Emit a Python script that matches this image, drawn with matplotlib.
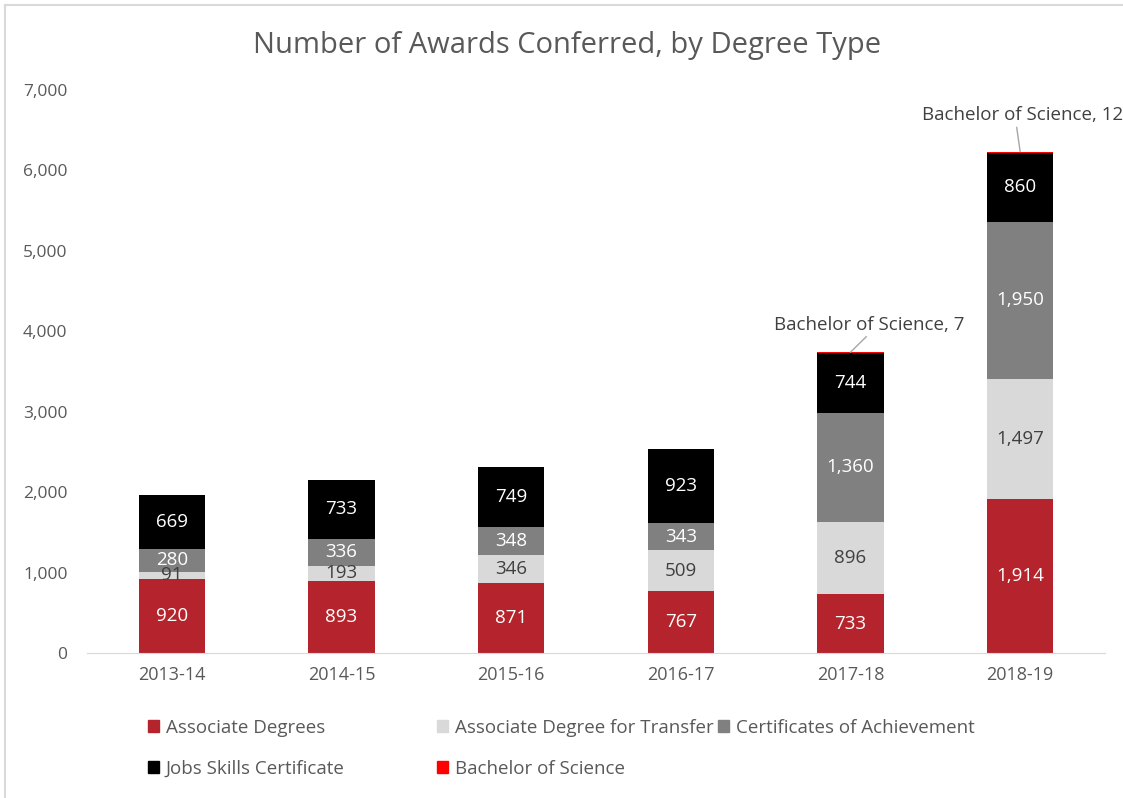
import matplotlib
matplotlib.use("Agg")
import matplotlib.pyplot as plt
import numpy as np
from matplotlib.patches import Patch
from matplotlib.lines import Line2D

plt.rcParams['font.family'] = ['Open Sans', 'DejaVu Sans']

years = ["2013-14", "2014-15", "2015-16", "2016-17", "2017-18", "2018-19"]
associate = [920, 893, 871, 767, 733, 1914]
adt = [91, 193, 346, 509, 896, 1497]
certificates = [280, 336, 348, 343, 1360, 1950]
jobs = [669, 733, 749, 923, 744, 860]
bachelor = [0, 0, 0, 0, 7, 12]

series_names = ["Associate Degrees", "Associate Degree for Transfer",
                "Certificates of Achievement", "Jobs Skills Certificate",
                "Bachelor of Science"]
colors = ["#B5242C", "#D9D9D9", "#808080", "#000000", "#FF0000"]
label_colors = ["white", "#404040", "white", "white", None]

W, H = 1123, 798
fig = plt.figure(figsize=(W / 100, H / 100), dpi=100)
ax = fig.add_axes([87 / W, 1 - 653 / H, (1105 - 87) / W, (653 - 90) / H])

x = np.arange(len(years))
w = 0.39
bottom = np.zeros(len(years))
data = [associate, adt, certificates, jobs, bachelor]
for vals, c, lc in zip(data, colors, label_colors):
    vals = np.array(vals, dtype=float)
    ax.bar(x, vals, w, bottom=bottom, color=c, linewidth=0)
    if lc is not None:
        for i, v in enumerate(vals):
            ax.text(x[i], bottom[i] + v / 2, f"{int(v):,}", ha="center", va="center",
                    color=lc, fontsize=13.5)
    bottom += vals

# Bachelor of Science callouts
totals = bottom
for i, v in enumerate(bachelor):
    if v > 0:
        if i == 4:
            xtxt, ytxt, ha = x[i] + 0.11, totals[i] + 340, "center"
        else:
            xtxt, ytxt, ha = x[i] - 0.58, totals[i] + 450, "left"
        ax.annotate(f"Bachelor of Science, {v}", xy=(x[i], totals[i]),
                    xytext=(xtxt, ytxt), ha=ha, va="center",
                    fontsize=13.5, color="#404040",
                    arrowprops=dict(arrowstyle="-", color="#A6A6A6", lw=1,
                                    shrinkA=0, shrinkB=0,
                                    relpos=(0.5 if i == 4 else 0.47, 0.0)),
                    annotation_clip=False)

ax.set_xlim(-0.5, len(years) - 0.5)
ax.set_ylim(0, 7000)
ax.set_yticks(range(0, 7001, 1000))
ax.yaxis.set_major_formatter(matplotlib.ticker.FuncFormatter(lambda v, p: f"{int(v):,}"))
ax.set_xticks(x)
ax.set_xticklabels(years)
ax.tick_params(axis="y", length=0, labelsize=12.5, colors="#595959", pad=14)
ax.tick_params(axis="x", length=0, labelsize=13, colors="#595959", pad=9)
for s in ["top", "right", "left"]:
    ax.spines[s].set_visible(False)
ax.spines["bottom"].set_color("#D9D9D9")

fig.text(567 / W, 1 - 46 / H, "Number of Awards Conferred, by Degree Type", ha="center",
         va="center", fontsize=21, color="#595959")

handles = [Patch(color=c) for c in colors]
leg_kw = dict(frameon=False, fontsize=13.5, handlelength=0.6, handleheight=0.6,
              handletextpad=0.35, labelspacing=1.2, labelcolor="#595959",
              borderaxespad=0, borderpad=0)
ly = 1 - 719 / H
fig.legend([handles[0], handles[3]], [series_names[0], series_names[3]],
           loc="upper left", bbox_to_anchor=(148 / W, ly), **leg_kw)
fig.legend([handles[1], handles[4]], [series_names[1], series_names[4]],
           loc="upper left", bbox_to_anchor=(437 / W, ly), **leg_kw)
fig.legend([handles[2]], [series_names[2]],
           loc="upper left", bbox_to_anchor=(718 / W, ly), **leg_kw)

# light border on top and left edges
fig.add_artist(Line2D([4.5 / W, 4.5 / W], [0, 1 - 4.5 / H], transform=fig.transFigure,
                      color="#D9D9D9", lw=1.5))
fig.add_artist(Line2D([4.5 / W, 1], [1 - 4.5 / H, 1 - 4.5 / H], transform=fig.transFigure,
                      color="#D9D9D9", lw=1.5))

fig.savefig("out.png", dpi=100)
